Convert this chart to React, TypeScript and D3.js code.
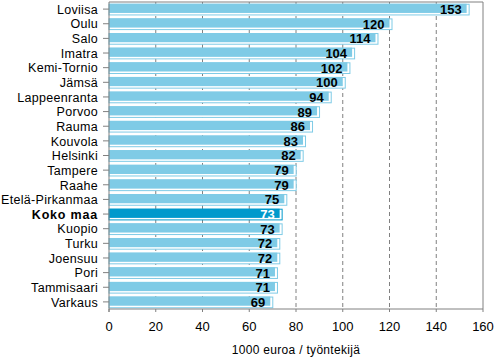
import React from "react";
import * as d3 from "d3";

const categories = ["Loviisa","Oulu","Salo","Imatra","Kemi-Tornio","Jämsä","Lappeenranta","Porvoo","Rauma","Kouvola","Helsinki","Tampere","Raahe","Etelä-Pirkanmaa","Koko maa","Kuopio","Turku","Joensuu","Pori","Tammisaari","Varkaus"];
const values = [153,120,114,104,102,100,94,89,86,83,82,79,79,75,73,73,72,72,71,71,69];
const xTicks = [0,20,40,60,80,100,120,140,160];
const highlight = "Koko maa";

export default function App() {
  const W = 495, H = 357;
  const left = 109, right = 483, top = 2, bottom = 309;
  const x = d3.scaleLinear().domain([0, 160]).range([left, right]);
  const y = d3.scaleBand().domain(categories).range([top, bottom]).paddingInner(0.27).paddingOuter(0.12);
  const bh = y.bandwidth();
  const font = "'Liberation Sans', Arial, sans-serif";
  return (
    <svg width={W} height={H} style={{ position: "absolute", left: 0, top: 0 }} fontFamily={font}>
      <rect x={0} y={0} width={W} height={H} fill="#fff" />
      {xTicks.slice(1, -1).map(t => (
        <line key={t} x1={x(t)} x2={x(t)} y1={top} y2={bottom} stroke="#808080" strokeDasharray="4,3" strokeWidth={1} />
      ))}
      {categories.map((c, i) => {
        const y0 = y(c)!;
        const xe = x(values[i]);
        const hi = c === highlight;
        const col = hi ? "#0099cc" : "#7fcbe6";
        return (
          <g key={c}>
            <rect x={left} y={y0 + 0.5} width={xe - left + 2.5} height={bh} fill="#fff" stroke={col} strokeWidth={1} />
            <rect x={left} y={y0} width={xe - left} height={bh - 1.5} fill={col} />
            <text x={xe - 5} y={y0 + bh / 2} dy="0.38em" textAnchor="end" fontWeight="bold" fontSize={13} fill={hi ? "#fff" : "#000"}>{values[i]}</text>
            <line x1={left - 6} x2={left} y1={y0 + bh / 2} y2={y0 + bh / 2} stroke="#808080" />
            <text x={98} y={y0 + bh / 2} dy="0.38em" textAnchor="end" fontSize={12.5} letterSpacing={hi ? 0.8 : 0.3} fontWeight={hi ? "bold" : "normal"} fill="#000">{c}</text>
          </g>
        );
      })}
      <line x1={left} x2={right} y1={top} y2={top} stroke="#808080" />
      <line x1={right} x2={right} y1={top} y2={bottom} stroke="#808080" />
      <line x1={left} x2={left} y1={top} y2={bottom + 3} stroke="#808080" />
      <line x1={left} x2={right} y1={bottom} y2={bottom} stroke="#808080" />
      {xTicks.map(t => (
        <g key={t}>
          <line x1={x(t)} x2={x(t)} y1={bottom} y2={bottom + 3} stroke="#808080" />
          <text x={x(t)} y={331} textAnchor="middle" fontSize={13} fill="#000">{t}</text>
        </g>
      ))}
      <text x={296} y={354} textAnchor="middle" fontSize={12} letterSpacing={0.3} fill="#000">1000 euroa / työntekijä</text>
    </svg>
  );
}
